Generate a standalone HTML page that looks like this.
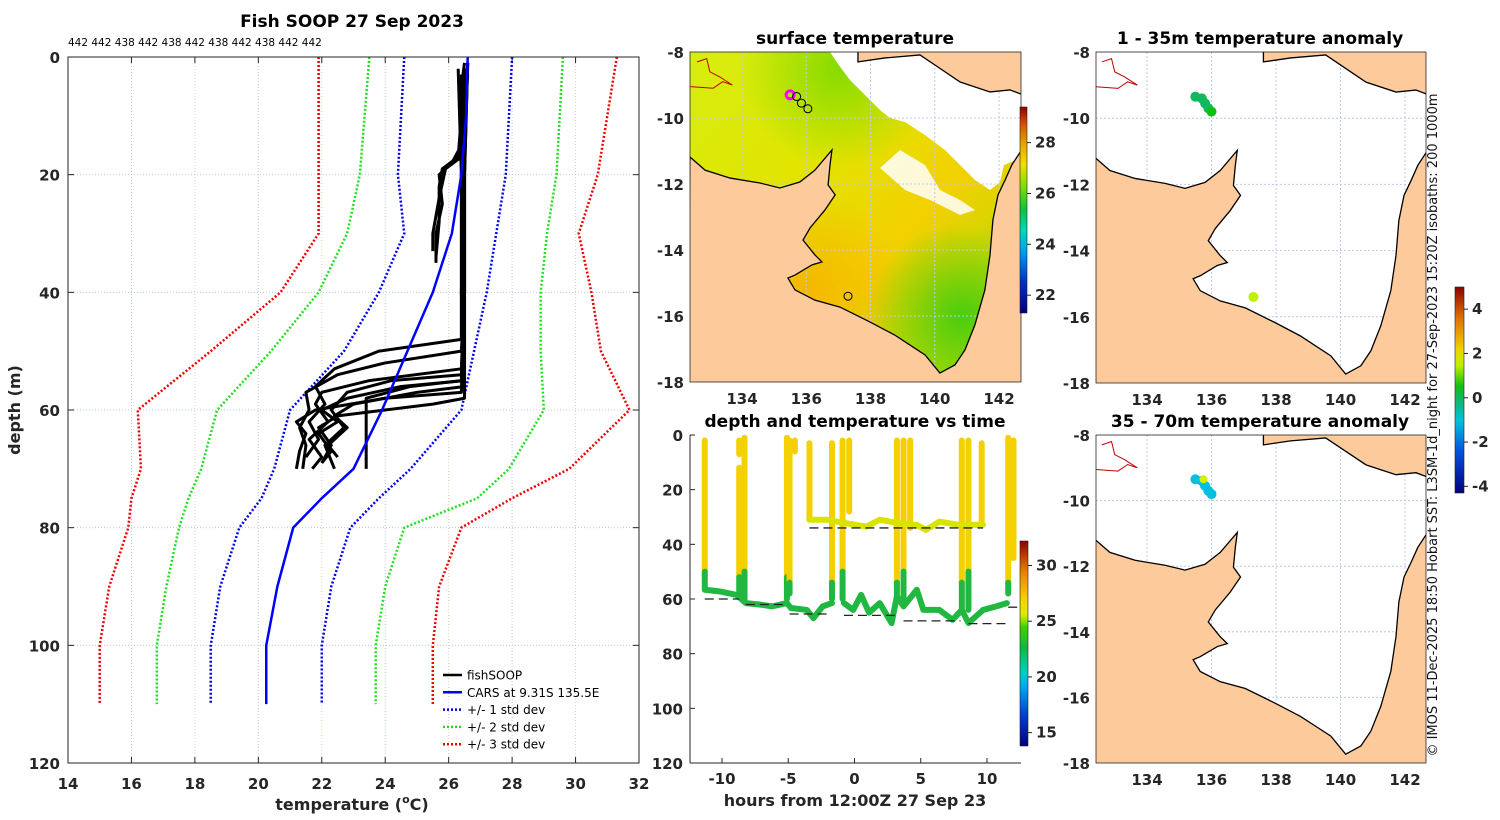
<!DOCTYPE html>
<html><head><meta charset="utf-8">
<style>
html,body{margin:0;padding:0;background:#fff;}
svg{display:block;font-family:"DejaVu Sans","Liberation Sans",sans-serif;}
.tk{font-size:15px;font-weight:bold;fill:#262626;}
.ttl{font-size:17px;font-weight:bold;fill:#000;}
</style></head>
<body>
<svg id="fig" width="1500" height="820" viewBox="0 0 1500 820" xmlns="http://www.w3.org/2000/svg">
<defs>
<linearGradient id="oceanLin" x1="0" y1="0" x2="1" y2="1">
<stop offset="0" stop-color="#d6ee10"/><stop offset="0.35" stop-color="#e2e400"/><stop offset="0.6" stop-color="#f2d000"/><stop offset="1" stop-color="#9ce000"/>
</linearGradient>
<radialGradient id="greenBlob" cx="0.82" cy="0.8" r="0.28"><stop offset="0" stop-color="#3ccc10" stop-opacity="0.9"/><stop offset="1" stop-color="#3ccc10" stop-opacity="0"/></radialGradient>
<radialGradient id="orangeBlob" cx="0.35" cy="0.72" r="0.3"><stop offset="0" stop-color="#f6b000" stop-opacity="0.8"/><stop offset="1" stop-color="#f6b000" stop-opacity="0"/></radialGradient>
<radialGradient id="greenTop" cx="0.45" cy="0.05" r="0.3"><stop offset="0" stop-color="#70d800" stop-opacity="0.8"/><stop offset="1" stop-color="#70d800" stop-opacity="0"/></radialGradient>
<linearGradient id="cbSST" x1="0" y1="1" x2="0" y2="0">
<stop offset="0" stop-color="#00007f"/><stop offset="0.15" stop-color="#0030c0"/><stop offset="0.3" stop-color="#00a0f0"/><stop offset="0.4" stop-color="#00d8c0"/><stop offset="0.5" stop-color="#10c040"/><stop offset="0.62" stop-color="#80e000"/><stop offset="0.72" stop-color="#f0e000"/><stop offset="0.82" stop-color="#f0a000"/><stop offset="0.92" stop-color="#d05000"/><stop offset="1" stop-color="#900000"/>
</linearGradient>
<linearGradient id="cbTime" x1="0" y1="1" x2="0" y2="0">
<stop offset="0" stop-color="#00007f"/><stop offset="0.15" stop-color="#0040d0"/><stop offset="0.3" stop-color="#00b0f0"/><stop offset="0.36" stop-color="#00d0c0"/><stop offset="0.48" stop-color="#10b840"/><stop offset="0.58" stop-color="#40d000"/><stop offset="0.64" stop-color="#d8ee00"/><stop offset="0.72" stop-color="#f4d000"/><stop offset="0.85" stop-color="#e88000"/><stop offset="1" stop-color="#900000"/>
</linearGradient>
<linearGradient id="cbAnom" x1="0" y1="1" x2="0" y2="0">
<stop offset="0" stop-color="#00007f"/><stop offset="0.2" stop-color="#0050e0"/><stop offset="0.35" stop-color="#00c0e0"/><stop offset="0.46" stop-color="#10b860"/><stop offset="0.52" stop-color="#10c010"/><stop offset="0.62" stop-color="#c0f000"/><stop offset="0.7" stop-color="#f0d000"/><stop offset="0.85" stop-color="#e07000"/><stop offset="1" stop-color="#900000"/>
</linearGradient>
<clipPath id="clipL"><rect x="68" y="57" width="571" height="706"/></clipPath>
<clipPath id="clipM1"><rect x="690" y="52" width="331" height="330"/></clipPath>
<clipPath id="clipT"><rect x="690" y="435" width="331" height="328"/></clipPath>
<clipPath id="clipR1"><rect x="1096" y="52" width="330" height="331"/></clipPath>
<clipPath id="clipR2"><rect x="1096" y="435" width="330" height="328"/></clipPath>
</defs>
<g id="gL"></g>
<g id="gM1"></g>
<g id="gT"></g>
<g id="gR1"></g>
<g id="gR2"></g>
<text x="1437" y="425" transform="rotate(-90 1437 425)" text-anchor="middle" font-size="13" fill="#111">© IMOS 11-Dec-2025 18:50 Hobart SST: L3SM-1d_night for 27-Sep-2023 15:20Z isobaths: 200  1000m</text>
</svg>
<script>
// ===== Left panel data =====
const stdDepths = [0,10,20,30,40,50,60,70,75,80,90,100,110];
const carsMean  = [26.6,26.55,26.4,26.1,25.5,24.7,23.9,23.0,22.0,21.1,20.6,20.25,20.25];
const lo1 = [24.6,24.5,24.4,24.6,23.8,22.7,21.0,20.5,20.1,19.4,18.8,18.5,18.5];
const hi1 = [28.0,27.9,27.8,27.5,27.2,26.8,26.4,24.8,23.8,22.9,22.3,22.0,22.0];
const lo2 = [23.5,23.35,23.2,22.8,21.9,20.4,18.7,18.2,17.8,17.5,17.1,16.8,16.8];
const hi2 = [29.6,29.5,29.4,29.1,28.9,28.9,29.0,27.9,26.9,24.6,24.0,23.7,23.7];
const lo3 = [21.9,21.9,21.9,21.9,20.7,18.5,16.2,16.3,16.0,15.9,15.3,15.0,15.0];
const hi3 = [31.3,31.0,30.7,30.1,30.5,30.8,31.7,29.8,28.0,26.4,25.7,25.5,25.5];
const countLabels = "442 442 438 442 438 442 438 442 438 442 442";
const tempTicks = [14,16,18,20,22,24,26,28,30,32];
const depthTicks = [0,20,40,60,80,100,120];
const profDepths = [
 [1,5,10,17,19,22,28,34],
 [2,8,15,18,20,25,30,35],
 [3,10,17,19,24,30,33],
 [2,20,40,50,52,54,57,60,63,66,70],
 [1,20,40,53,55,57,59,62,65,68,70],
 [3,20,40,55,56,58,60,62,64,67,69],
 [2,20,40,56,57,59,61,63,66,68],
 [1,20,40,57,58,60,62,64,67,70],
 [2,20,40,48,50,53,56,59,62,65,68],
 [3,20,40,58,59,61,63,66,69],
 [2,20,40,54,55,57,60,63,66,70],
 [1,20,40,55,56,58,70]
];
const profTemps = [
 [26.5,26.4,26.4,26.3,25.8,25.7,25.7,25.6],
 [26.5,26.5,26.4,26.1,25.7,25.8,25.6,25.6],
 [26.6,26.5,26.4,25.9,25.7,25.5,25.5],
 [26.3,26.4,26.5,26.4,24.0,22.5,21.5,21.6,21.3,21.5,21.4],
 [26.6,26.4,26.5,26.4,23.5,22.0,21.8,22.2,21.6,22.0,21.7],
 [26.4,26.5,26.5,26.5,24.5,22.8,22.0,22.5,21.9,22.3,22.0],
 [26.5,26.4,26.4,26.5,25.0,23.0,22.4,22.8,22.2,22.5],
 [26.6,26.5,26.5,26.4,24.0,21.8,21.2,21.5,21.3,21.2],
 [26.5,26.5,26.4,26.4,23.8,22.4,21.8,22.1,21.6,21.9,21.5],
 [26.4,26.5,26.5,26.5,25.5,22.5,21.9,22.3,22.0],
 [26.5,26.5,26.5,26.4,24.2,22.8,22.3,22.7,22.1,22.4],
 [26.6,26.5,26.5,26.4,24.8,23.4,23.4]
];
// ===== Time panel data =====
const hourTicks = [-10,-5,0,5,10];
const tDepthTicks = [0,20,40,60,80,100,120];
const lowHours = [-11.3,-10.2,-8.9,-8.2,-7.2,-6.2,-5.1,-4.8,-3.6,-3.1,-2.4,-1.7];
const lowDepths = [56.6,57.2,58.5,61.5,62,62.7,61.5,63.3,64,67,62.7,61.5];
const low2Hours = [-0.8,-0.1,0.5,1.1,1.9,2.8,3.2,3.7,4.7,5.2,6.4,7.4,8.1,8.6,9.7,10.7,11.5];
const low2Depths = [61.5,64,58.5,65,61.5,68.8,59,62.7,56.6,64,64,67.6,64,68.8,64,62.7,61.5];
const upHours = [-3.4,-2.1,-0.6,0.9,1.9,3.4,4.7,5.4,6.4,7.9,9.7];
const upDepths = [31,31,32.3,33.5,31,32.3,32.9,34.7,31.7,32.9,32.9];
const castHours = [-11.3,-8.7,-8.7,-8.3,-5.1,-4.9,-4.5,-3.4,-1.7,-0.9,-0.4,3.2,3.7,4.2,8.1,8.6,9.6,11.6,12.0];
const castTops  = [2,12,2,1,1,2,2,3,3,2,2,2,2,2,2,2,3,1,2];
const castBots  = [56,58,7,61,60,58,6,31,60,60,28,59,60,34,64,64,33,58,45];
const dashStart = [-11.3,-8.2,-4.9,-0.8,3.7,8.6,-3.4,11.6];
const dashEnd   = [-8.7,-5.2,-1.8,3.2,8.0,11.6,9.7,12.3];
const dashDepth = [60,62,65.5,66,68,69,34,63];
const sstTicks = [22,24,26,28];
const timeCbTicks = [15,20,25,30];
const anomTicks = [-4,-2,0,2,4];
// ===== Map data (lon/lat) =====
const lonTicks = [134,136,138,140,142];
const latTicks = [-8,-10,-12,-14,-16,-18];
const landLon = [132.38,132.85,133.63,134.56,135.18,135.8,136.27,136.8,136.74,136.68,136.9,136.58,136.12,135.9,136.27,136.49,136.18,135.65,135.43,135.65,136.27,137.05,137.98,138.76,139.23,139.7,140.16,140.63,140.94,141.25,141.56,141.72,141.81,141.97,142.19,142.4,142.75,142.75,132.3];
const landLat = [-11.18,-11.58,-11.82,-11.97,-12.12,-11.94,-11.58,-10.97,-11.42,-12.03,-12.33,-12.79,-13.33,-13.7,-14.15,-14.36,-14.45,-14.76,-14.85,-15.21,-15.52,-15.73,-16.18,-16.58,-16.88,-17.18,-17.73,-17.48,-17.03,-16.27,-15.21,-14.15,-13.09,-12.33,-11.88,-11.42,-10.9,-18.2,-18.2];
const pngLon = [137.61,137.61,138.45,139.54,140.0,140.79,141.72,142.34,142.75,142.75];
const pngLat = [-7.9,-8.3,-8.18,-8.09,-8.39,-8.91,-9.21,-9.15,-9.3,-7.9];
const trackLon = [135.5,135.7,135.8,135.9,136.0];
const trackLat = [-9.35,-9.4,-9.55,-9.7,-9.8];
const anom1 = [0.3,0.4,0.4,0.5,0.6];
const anom2 = [-0.5,-0.6,-0.4,-0.5,-0.3];
const stnLon = [137.3];
const stnLat = [-15.4];
const stnAnom1 = [1.6];

const NS="http://www.w3.org/2000/svg";
function mk(tag, attrs, parent){const e=document.createElementNS(NS,tag);for(const k in attrs)e.setAttribute(k,attrs[k]);if(parent)parent.appendChild(e);return e;}
function txt(parent,x,y,s,cls,anchor){const t=mk('text',{x:x,y:y,'text-anchor':anchor||'middle'},parent);if(cls)t.setAttribute('class',cls);t.textContent=s;return t;}

// ---------- Left panel ----------
(function(){
const g=document.getElementById('gL');
const X0=68,X1=639,Y0=57,Y1=763;
const sx=t=>X0+(t-14)*(X1-X0)/18, sy=d=>Y0+d*(Y1-Y0)/120;
mk('rect',{x:X0,y:Y0,width:X1-X0,height:Y1-Y0,fill:'#fff'},g);
tempTicks.forEach((t,i)=>{const l=mk('line',{x1:sx(t),x2:sx(t),y1:Y0,y2:Y1,stroke:i%2?'#b8c8f0':'#f0c8b8','stroke-width':1,'stroke-dasharray':'1,2'},g);


const tl=txt(g,sx(t),789,String(t),'tk');


mk('line',{x1:sx(t),x2:sx(t),y1:Y1,y2:Y1-6,stroke:'#262626'},g);mk('line',{x1:sx(t),x2:sx(t),y1:Y0,y2:Y0+6,stroke:'#262626'},g);});
depthTicks.forEach(d=>{mk('line',{x1:X0,x2:X1,y1:sy(d),y2:sy(d),stroke:'#b8c8f0','stroke-width':1,'stroke-dasharray':'1,2'},g);
const tl=txt(g,60,sy(d)+6,String(d),'tk','end');


mk('line',{x1:X0,x2:X0+6,y1:sy(d),y2:sy(d),stroke:'#262626'},g);mk('line',{x1:X1,x2:X1-6,y1:sy(d),y2:sy(d),stroke:'#262626'},g);});
const c=mk('g',{'clip-path':'url(#clipL)'},g);
function poly(arr,color,dash,w,name){const p=mk('polyline',{points:stdDepths.map((d,i)=>sx(arr[i])+','+sy(d)).join(' '),fill:'none',stroke:color,'stroke-width':w,'stroke-dasharray':dash},c);

}
poly(lo3,'#f00000','2,2',2.5,'minus-3-std-line');poly(hi3,'#f00000','2,2',2.5,'plus-3-std-line');
poly(lo2,'#20e020','2,2',2.5,'minus-2-std-line');poly(hi2,'#20e020','2,2',2.5,'plus-2-std-line');
poly(lo1,'#0000f0','2,2',2.5,'minus-1-std-line');poly(hi1,'#0000f0','2,2',2.5,'plus-1-std-line');
profDepths.forEach((ds,k)=>{const p=mk('polyline',{points:ds.map((d,i)=>sx(profTemps[k][i])+','+sy(d)).join(' '),fill:'none',stroke:'#000','stroke-width':3,'stroke-linejoin':'round'},c);

});
poly(carsMean,'#0000ff','none',2.5,'cars-mean-line');
mk('rect',{x:X0,y:Y0,width:X1-X0,height:Y1-Y0,fill:'none',stroke:'#262626','stroke-width':1},g);
const t=txt(g,352,27,'Fish SOOP 27 Sep 2023','ttl');


const cl=txt(g,68,46,countLabels,null,'start');cl.setAttribute('font-size','10.5');


const xl=mk('text',{x:352,y:810,'text-anchor':'middle','font-size':16,'font-weight':'bold',fill:'#262626'},g);
xl.innerHTML='temperature (<tspan font-size="11" dy="-7">o</tspan><tspan dy="7">C)</tspan>';


const yl=txt(g,20,410,'depth (m)');yl.setAttribute('transform','rotate(-90 20 410)');yl.setAttribute('font-size','16');yl.setAttribute('font-weight','bold');yl.setAttribute('fill','#262626');


const L=[['fishSOOP','#000','none'],['CARS at 9.31S 135.5E','#0000ff','none'],['+/- 1 std dev','#0000f0','2,2'],['+/- 2 std dev','#20e020','2,2'],['+/- 3 std dev','#f00000','2,2']];
const lg=mk('g',{},g);


L.forEach((e,i)=>{const y=675+i*17.3;const en=mk('g',{},lg);


mk('line',{x1:443,x2:462,y1:y,y2:y,stroke:e[1],'stroke-width':2.5,'stroke-dasharray':e[2]},en);
const tt=txt(en,467,y+4.5,e[0],null,'start');tt.setAttribute('font-size','12');});
})();

// ---------- Map helper ----------
function drawMap(g,X0,Y0,W,H,lonA,lonPer,clip,opts){
const px=lo=>lonA+(lo-134)*lonPer, py=la=>Y0+(-8-la)*(H/10);
const c=mk('g',{'clip-path':'url(#'+clip+')'},g);
if(opts.sst){
 mk('rect',{x:X0,y:Y0,width:W,height:H,fill:'url(#oceanLin)'},c);
 mk('rect',{x:X0,y:Y0,width:W,height:H,fill:'url(#greenTop)'},c);
 mk('rect',{x:X0,y:Y0,width:W,height:H,fill:'url(#orangeBlob)'},c);
 mk('rect',{x:X0,y:Y0,width:W,height:H,fill:'url(#greenBlob)'},c);
 const wr=mk('polygon',{points:'830,52 838,64 850,80 866,96 880,110 890,118 905,122 925,135 945,150 960,165 975,180 990,190 1000,182 1004,165 1021,158 1021,52',fill:'#fff'},c);
 
 
 mk('polygon',{points:'880,168 900,150 925,165 940,190 960,200 975,210 960,215 930,200 905,190',fill:'#fff','fill-opacity':0.85},c);
}else{mk('rect',{x:X0,y:Y0,width:W,height:H,fill:'#fff'},c);}
lonTicks.forEach(lo=>mk('line',{x1:px(lo),x2:px(lo),y1:Y0,y2:Y0+H,stroke:'#c0c8ec','stroke-dasharray':'2,2'},c));
latTicks.forEach(la=>mk('line',{x1:X0,x2:X0+W,y1:py(la),y2:py(la),stroke:'#c0c8ec','stroke-dasharray':'2,2'},c));
const land=mk('polygon',{points:landLon.map((lo,i)=>px(lo)+','+py(landLat[i])).join(' '),fill:'#fdca9c',stroke:'#000','stroke-width':1.3},c);


const png=mk('polygon',{points:pngLon.map((lo,i)=>px(lo)+','+py(pngLat[i])).join(' '),fill:'#fdca9c',stroke:'#000','stroke-width':1.3},c);


mk('polyline',{points:[[132.4,-9.05],[133.1,-9.1],[133.4,-8.9],[133.7,-9.0],[133.3,-8.75],[133.0,-8.6],[132.9,-8.2],[132.6,-8.3]].map(p=>px(p[0])+','+py(p[1])).join(' '),fill:'none',stroke:'#c00000','stroke-width':1},c);
if(opts.pts){opts.pts.forEach(p=>{const e=mk('circle',{cx:px(p[0]),cy:py(p[1]),r:p[3]||5,fill:p[2]||'none',stroke:p[4]||'none','stroke-width':p[5]||1},c);

});}
mk('rect',{x:X0,y:Y0,width:W,height:H,fill:'none',stroke:'#262626','stroke-width':0.8},g);
lonTicks.forEach(lo=>{const t=txt(g,px(lo),Y0+H+22,String(lo),'tk');

});
latTicks.forEach(la=>{const t=txt(g,X0-6,py(la)+6,String(la),'tk','end');

});
return {px,py};
}
function anomColor(a){const t=(a+4.3)/9.3;const stops=[[0,'#00007f'],[0.35,'#00c0e0'],[0.46,'#10b860'],[0.52,'#10c010'],[0.62,'#c0f000'],[0.7,'#f0d000'],[1,'#900000']];for(let i=1;i<stops.length;i++)if(t<=stops[i][0])return stops[i-1][1];return '#900000';}
function colorbar(g,x,y,w,h,grad,vmin,vmax,ticks,name){
const r=mk('rect',{x:x,y:y,width:w,height:h,fill:'url(#'+grad+')',stroke:'#222','stroke-width':0.6},g);


ticks.forEach(v=>{const yy=y+h-(v-vmin)/(vmax-vmin)*h;mk('line',{x1:x+w,x2:x+w+4,y1:yy,y2:yy,stroke:'#222'},g);
const t=txt(g,x+w+8,yy+5,String(v),'tk','start');t.setAttribute('font-size','13');

});
}

// ---------- Surface temperature map ----------
(function(){
const g=document.getElementById('gM1');
drawMap(g,690,52,331,330,742,32.125,'clipM1',{sst:true,pts:[[135.5,-9.3,'none',4,'#ff00ff',3],[135.7,-9.35,'none',4,'#000',1],[135.85,-9.55,'none',4,'#000',1],[136.05,-9.72,'none',4,'#000',1],[137.3,-15.4,'none',4,'#000',1]]});
const t=txt(g,855,44,'surface temperature','ttl');


colorbar(g,1020,107,7,206,'cbSST',21.3,29.4,sstTicks,'sst-colorbar');
})();

// ---------- Depth vs time ----------
(function(){
const g=document.getElementById('gT');
const X0=690,X1=1021,Y0=435,Y1=763;
const sx=h=>722+(h+10)*13.25, sy=d=>Y0+d*(Y1-Y0)/120;
const c=mk('g',{'clip-path':'url(#clipT)'},g);
const YEL='#f4d000',GRN='#20b840',UP='#d8e400';
castHours.forEach((h,i)=>{const top=castTops[i],bot=castBots[i];const th=Math.min(bot,50+(i%3)*2);
const a=mk('line',{x1:sx(h),x2:sx(h),y1:sy(top),y2:sy(th),stroke:YEL,'stroke-width':6,'stroke-linecap':'round'},c);


if(bot>th){const b=mk('line',{x1:sx(h),x2:sx(h),y1:sy(th),y2:sy(bot),stroke:GRN,'stroke-width':6,'stroke-linecap':'round'},c);

}});
function track(hs,ds,col,name){const p=mk('polyline',{points:hs.map((h,i)=>sx(h)+','+sy(ds[i])).join(' '),fill:'none',stroke:col,'stroke-width':6,'stroke-linejoin':'round','stroke-linecap':'round'},c);

}
track(lowHours,lowDepths,GRN,'bottom-track-1');
track(low2Hours,low2Depths,GRN,'bottom-track-2');
track(upHours,upDepths,UP,'upper-track');
dashStart.forEach((s,i)=>{const l=mk('line',{x1:sx(s),x2:sx(dashEnd[i]),y1:sy(dashDepth[i]),y2:sy(dashDepth[i]),stroke:'#222','stroke-width':1.3,'stroke-dasharray':'9,5'},c);

});
mk('line',{x1:X0,x2:X0,y1:Y0,y2:Y1,stroke:'#262626'},g);mk('line',{x1:X0,x2:X1,y1:Y1,y2:Y1,stroke:'#262626'},g);
hourTicks.forEach(h=>{mk('line',{x1:sx(h),x2:sx(h),y1:Y1,y2:Y1-5,stroke:'#262626'},g);
const t=txt(g,sx(h),784,String(h),'tk');

});
tDepthTicks.forEach(d=>{mk('line',{x1:X0,x2:X0+5,y1:sy(d),y2:sy(d),stroke:'#262626'},g);
const t=txt(g,683,sy(d)+6,String(d),'tk','end');

});
const tt=txt(g,855,427,'depth and temperature vs time','ttl');


const xl=txt(g,855,806,'hours from 12:00Z 27 Sep 23');xl.setAttribute('font-size','16');xl.setAttribute('font-weight','bold');xl.setAttribute('fill','#262626');


colorbar(g,1020,541,8,205,'cbTime',13.8,32.2,timeCbTicks,'time-colorbar');
})();

// ---------- Anomaly maps ----------
(function(){
const g1=document.getElementById('gR1');
const p1=trackLon.map((lo,i)=>[lo,trackLat[i],anomColor(anom1[i]),5]);
p1.push([stnLon[0],stnLat[0],anomColor(stnAnom1[0]),5]);
drawMap(g1,1096,52,330,331,1147,32.25,'clipR1',{pts:p1});
const t1=txt(g1,1260,44,'1 - 35m temperature anomaly','ttl');


const g2=document.getElementById('gR2');
const p2=trackLon.map((lo,i)=>[lo,trackLat[i],anomColor(anom2[i]),5]);
p2.push([135.75,-9.35,'#d8f000',4]);
drawMap(g2,1096,435,330,328,1147,32.25,'clipR2',{pts:p2});
const t2=txt(g2,1260,427,'35 - 70m temperature anomaly','ttl');


colorbar(g2,1455,287,9,206,'cbAnom',-4.3,5.0,anomTicks,'anomaly-colorbar');
})();
</script>
</body></html>
